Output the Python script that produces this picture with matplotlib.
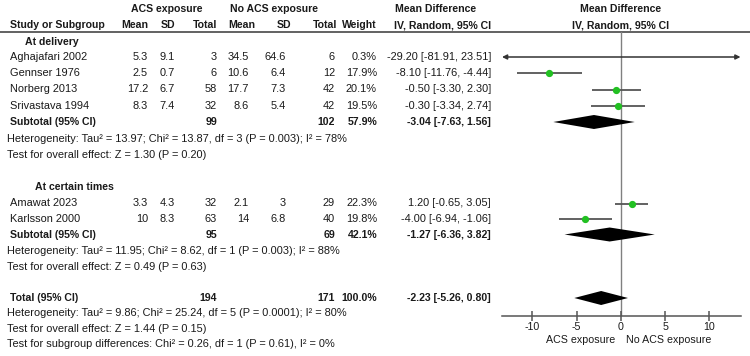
import matplotlib
matplotlib.use("Agg")
import matplotlib.pyplot as plt
import matplotlib.transforms as mtransforms

# ---------------- data ----------------
# subgroup 1: at delivery
names_1 = ["Aghajafari 2002", "Gennser 1976", "Norberg 2013", "Srivastava 1994"]
acs_mean_1 = [5.3, 2.5, 17.2, 8.3]
acs_sd_1 = [9.1, 0.7, 6.7, 7.4]
acs_n_1 = [3, 6, 58, 32]
ctl_mean_1 = [34.5, 10.6, 17.7, 8.6]
ctl_sd_1 = [64.6, 6.4, 7.3, 5.4]
ctl_n_1 = [6, 12, 42, 42]
weight_1 = [0.3, 17.9, 20.1, 19.5]
md_1 = [-29.20, -8.10, -0.50, -0.30]
lo_1 = [-81.91, -11.76, -3.30, -3.34]
hi_1 = [23.51, -4.44, 2.30, 2.74]

# subgroup 2: at certain times
names_2 = ["Amawat 2023", "Karlsson 2000"]
acs_mean_2 = [3.3, 10]
acs_sd_2 = [4.3, 8.3]
acs_n_2 = [32, 63]
ctl_mean_2 = [2.1, 14]
ctl_sd_2 = [3, 6.8]
ctl_n_2 = [29, 40]
weight_2 = [22.3, 19.8]
md_2 = [1.20, -4.00]
lo_2 = [-0.65, -6.94]
hi_2 = [3.05, -1.06]

# pooled results: subgroup 1, subgroup 2, total
pooled_labels = ["Subtotal (95% CI)", "Subtotal (95% CI)", "Total (95% CI)"]
pooled_acs_n = [99, 95, 194]
pooled_ctl_n = [102, 69, 171]
pooled_weight = [57.9, 42.1, 100.0]
pooled_md = [-3.04, -1.27, -2.23]
pooled_lo = [-7.63, -6.36, -5.26]
pooled_hi = [1.56, 3.82, 0.80]
heterogeneity = [
    "Heterogeneity: Tau\u00b2 = 13.97; Chi\u00b2 = 13.87, df = 3 (P = 0.003); I\u00b2 = 78%",
    "Heterogeneity: Tau\u00b2 = 11.95; Chi\u00b2 = 8.62, df = 1 (P = 0.003); I\u00b2 = 88%",
    "Heterogeneity: Tau\u00b2 = 9.86; Chi\u00b2 = 25.24, df = 5 (P = 0.0001); I\u00b2 = 80%",
]
overall_effect = [
    "Test for overall effect: Z = 1.30 (P = 0.20)",
    "Test for overall effect: Z = 0.49 (P = 0.63)",
    "Test for overall effect: Z = 1.44 (P = 0.15)",
]
subgroup_test = "Test for subgroup differences: Chi\u00b2 = 0.26, df = 1 (P = 0.61), I\u00b2 = 0%"
group_titles = ["At delivery", "At certain times"]
x_ticks = [-10, -5, 0, 5, 10]

# ---------------- style ----------------
plt.rcParams["font.family"] = ["Liberation Sans", "DejaVu Sans"]
fs = 7.9        # body text
fs_b = 7.6      # bold text
fs_ax = 7.7     # axis text
txt_c = "#1a1a1a"
line_c = "#555555"
dot_c = "#22c022"

W, H = 750, 356
fig = plt.figure(figsize=(W / 100, H / 100), dpi=100)
ax_t = fig.add_axes([0, 0, 1, 1])
ax_t.set_xlim(0, W)
ax_t.set_ylim(H, 0)
ax_t.axis("off")

# forest panel, y shares the pixel layout of the text panel
f_left, f_right, f_top, f_bottom = 502, 740.5, 32, 316
ax_f = fig.add_axes([f_left / W, (H - f_bottom) / H, (f_right - f_left) / W, (f_bottom - f_top) / H])
ax_f.set_xlim(-13.42, 13.5)
ax_f.set_ylim(f_bottom, f_top)
ax_f.patch.set_visible(False)
for s in ["top", "left", "right"]:
    ax_f.spines[s].set_visible(False)
ax_f.spines["bottom"].set_color(line_c)
ax_f.spines["bottom"].set_linewidth(1.1)
ax_f.set_yticks([])
ax_f.set_xticks(x_ticks)
ax_f.set_xticklabels([f"{t:g}" for t in x_ticks])
ax_f.tick_params(axis="x", direction="inout", length=7, width=1.1, color=line_c,
                 labelsize=fs_ax, labelcolor=txt_c, pad=1)
ax_f.axvline(0, color="#808080", lw=1.0, zorder=1)

# column positions (right edges in pixels)
col_acs_mean, col_acs_sd, col_acs_n = 148, 175, 217
col_ctl_mean, col_ctl_sd, col_ctl_n = 249, 286, 335
col_weight, col_md = 377, 491


def t(x, y, s, ha="left", bold=False, **kw):
    ax_t.text(x, y, s, ha=ha, va="center", fontsize=fs_b if bold else fs, color=txt_c,
              fontweight="bold" if bold else "normal", **kw)


# header
hdr = mtransforms.blended_transform_factory(ax_f.transData, ax_t.transData)
t(167, 9, "ACS exposure", ha="center", bold=True)
t(274, 9, "No ACS exposure", ha="center", bold=True)
t(436, 9, "Mean Difference", ha="center", bold=True)
t(443, 25, "IV, Random, 95% CI", ha="center", bold=True)
t(0, 9, "Mean Difference", ha="center", bold=True, transform=hdr)
t(0, 25, "IV, Random, 95% CI", ha="center", bold=True, transform=hdr)
t(10, 25, "Study or Subgroup", bold=True)
for x, s in [(148, "Mean"), (175, "SD"), (217, "Total"), (255, "Mean"),
             (291, "SD"), (337, "Total"), (377, "Weight")]:
    t(x, 25, s, ha="right", bold=True)
ax_t.plot([0, W], [32, 32], color=line_c, lw=1.3)

# rows (pixel y of each row)
group_title_y = [42, 187]
study_y = [[57, 73, 89.5, 106], [203.5, 219]]
pooled_y = [122, 234.5, 298]
het_y = [139, 251, 313.5]
test_y = [155.5, 267, 328.5]
subgroup_test_y = 344
title_x = [25, 35]

groups = [
    (names_1, acs_mean_1, acs_sd_1, acs_n_1, ctl_mean_1, ctl_sd_1, ctl_n_1, weight_1, md_1, lo_1, hi_1),
    (names_2, acs_mean_2, acs_sd_2, acs_n_2, ctl_mean_2, ctl_sd_2, ctl_n_2, weight_2, md_2, lo_2, hi_2),
]
xmin, xmax = ax_f.get_xlim()

for g, (names, am, asd, an, cm, csd, cn, wt, md, lo, hi) in enumerate(groups):
    t(title_x[g], group_title_y[g], group_titles[g], bold=True)
    for i, name in enumerate(names):
        y = study_y[g][i]
        t(10, y, name)
        t(col_acs_mean, y, f"{am[i]:g}", ha="right")
        t(col_acs_sd, y, f"{asd[i]:g}", ha="right")
        t(col_acs_n, y, f"{an[i]}", ha="right")
        t(col_ctl_mean, y, f"{cm[i]:g}", ha="right")
        t(col_ctl_sd, y, f"{csd[i]:g}", ha="right")
        t(col_ctl_n, y, f"{cn[i]}", ha="right")
        t(col_weight, y, f"{wt[i]:.1f}%", ha="right")
        t(col_md, y, f"{md[i]:.2f} [{lo[i]:.2f}, {hi[i]:.2f}]", ha="right")
        # confidence interval, with arrows where it runs off the scale
        a, b = max(lo[i], xmin), min(hi[i], xmax)
        if lo[i] < xmin or hi[i] > xmax:
            style = ("<|-|>" if (lo[i] < xmin and hi[i] > xmax)
                     else "<|-" if lo[i] < xmin else "-|>")
            ax_f.annotate("", xy=(b, y), xytext=(a, y),
                          arrowprops=dict(arrowstyle=style, color="#333333", lw=1.1,
                                          mutation_scale=7, shrinkA=0, shrinkB=0))
        else:
            ax_f.plot([a, b], [y, y], color=line_c, lw=1.3, solid_capstyle="butt", zorder=2)
        if xmin <= md[i] <= xmax:
            ax_f.plot(md[i], y, "o", color=dot_c, ms=4.2, mec=dot_c, zorder=3)

# pooled rows + diamonds
for k in range(3):
    y = pooled_y[k]
    t(10, y, pooled_labels[k], bold=True)
    t(col_acs_n, y, f"{pooled_acs_n[k]}", ha="right", bold=True)
    t(col_ctl_n, y, f"{pooled_ctl_n[k]}", ha="right", bold=True)
    t(col_weight, y, f"{pooled_weight[k]:.1f}%", ha="right", bold=True)
    t(col_md, y, f"{pooled_md[k]:.2f} [{pooled_lo[k]:.2f}, {pooled_hi[k]:.2f}]", ha="right", bold=True)
    ax_f.fill([pooled_lo[k], pooled_md[k], pooled_hi[k], pooled_md[k]],
              [y, y - 7, y, y + 7], color="black", lw=0, zorder=4)
    t(7, het_y[k], heterogeneity[k])
    t(7, test_y[k], overall_effect[k])
t(7, subgroup_test_y, subgroup_test)

# favours labels
ax_t.text(-0.6, 340, "ACS exposure", ha="right", va="center", fontsize=fs_ax, color=txt_c, transform=hdr)
ax_t.text(0.55, 340, "No ACS exposure", ha="left", va="center", fontsize=fs_ax, color=txt_c, transform=hdr)

fig.savefig("out.png", dpi=100)
